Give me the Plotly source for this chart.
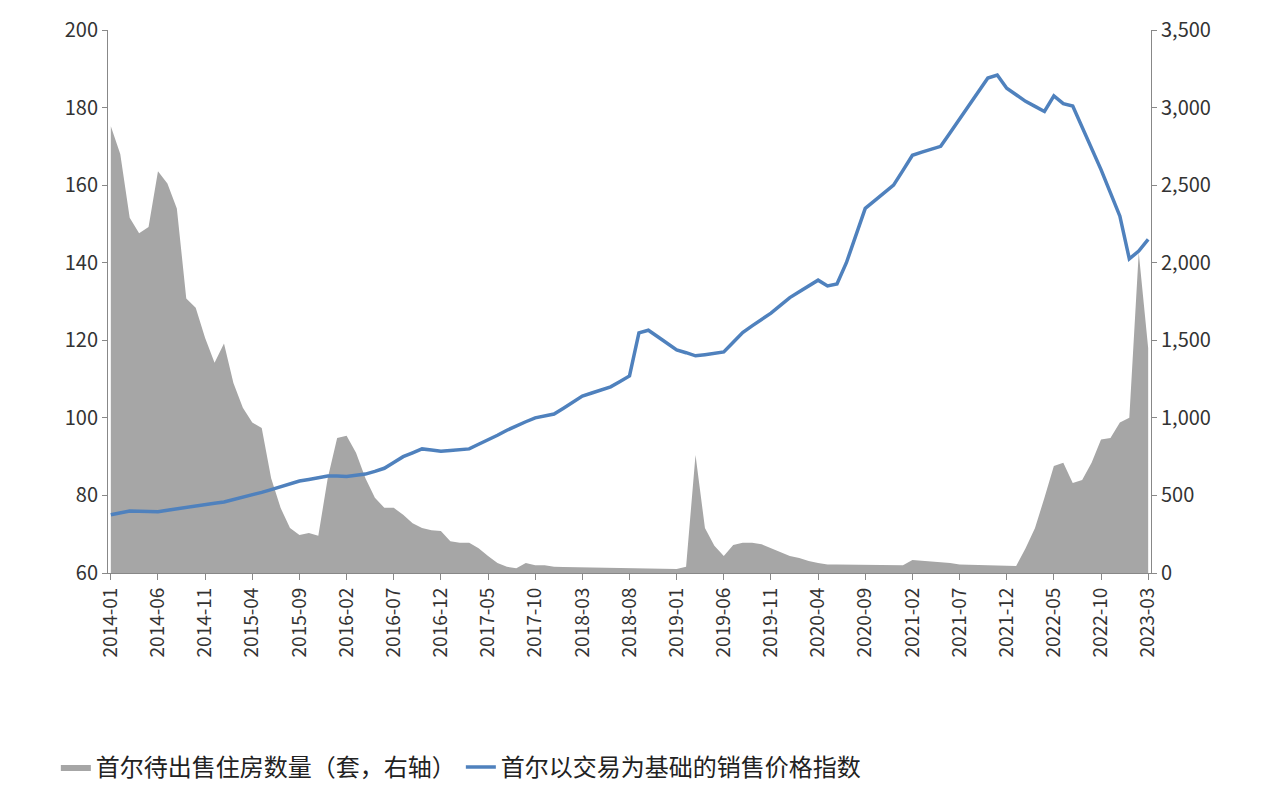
import plotly.graph_objects as go
import pandas as pd

months = pd.date_range("2014-01", "2023-03", freq="MS").strftime("%Y-%m").tolist()

price_anchor = {
"2014-01":75,"2014-03":76,"2014-06":75.8,"2014-09":77,"2014-11":77.8,"2015-01":78.3,"2015-04":80,"2015-06":81.5,
"2015-09":83.7,"2015-12":85,"2016-02":84.9,"2016-04":85.5,"2016-06":87,"2016-08":90,"2016-10":92,"2016-12":91.4,
"2017-03":92,"2017-05":94.3,"2017-08":98,"2017-10":100,"2017-12":101,"2018-03":105.6,"2018-06":108,"2018-08":110.8,
"2018-09":121.9,"2018-10":122.6,"2019-01":117.5,"2019-03":116,"2019-06":117,"2019-08":122,"2019-11":127,"2020-01":131,
"2020-04":135.5,"2020-05":134,"2020-06":134.5,"2020-07":140,"2020-09":154,"2020-12":160,"2021-02":167.7,"2021-05":170,
"2021-07":177,"2021-10":187.6,"2021-11":188.4,"2021-12":185,"2022-02":181.6,"2022-04":179,"2022-05":183,"2022-06":181,
"2022-07":180.4,"2022-08":175,"2022-10":164,"2022-12":152,"2023-01":141,"2023-02":143,"2023-03":146}
price = pd.Series(price_anchor).reindex(months).astype(float).interpolate().round(1).tolist()

stock_anchor = {
"2014-01":2880,"2014-02":2700,"2014-03":2290,"2014-04":2190,"2014-05":2230,"2014-06":2590,"2014-07":2510,"2014-08":2350,
"2014-09":1770,"2014-10":1710,"2014-11":1515,"2014-12":1355,"2015-01":1480,"2015-02":1225,"2015-03":1065,"2015-04":970,
"2015-05":935,"2015-06":610,"2015-07":420,"2015-08":290,"2015-09":245,"2015-10":258,"2015-11":240,"2015-12":610,
"2016-01":870,"2016-02":885,"2016-03":775,"2016-04":610,"2016-05":485,"2016-06":420,"2016-07":420,"2016-08":375,
"2016-09":320,"2016-10":290,"2016-11":275,"2016-12":270,"2017-01":205,"2017-02":195,"2017-03":195,"2017-04":160,
"2017-05":110,"2017-06":65,"2017-07":40,"2017-08":30,"2017-09":65,"2017-10":50,"2017-11":50,"2017-12":40,
"2018-08":30,"2019-01":25,"2019-02":40,"2019-03":760,"2019-04":290,"2019-05":175,"2019-06":110,"2019-07":180,
"2019-08":195,"2019-09":195,"2019-10":185,"2019-11":160,"2019-12":130,"2020-01":110,"2020-02":97,"2020-03":77,
"2020-04":65,"2020-05":55,"2021-01":50,"2021-02":84,"2021-03":80,"2021-06":65,"2021-07":55,"2022-01":45,
"2022-02":160,"2022-03":290,"2022-04":485,"2022-05":690,"2022-06":710,"2022-07":580,"2022-08":600,"2022-09":710,
"2022-10":860,"2022-11":870,"2022-12":970,"2023-01":1000,"2023-02":2065,"2023-03":1450}
stock = pd.Series(stock_anchor).reindex(months).astype(float).interpolate().round(0).tolist()

tickvals = months[::5]

fig = go.Figure()
fig.add_trace(go.Scatter(x=months, y=stock, name="首尔待出售住房数量（套，右轴）", mode="lines",
    line=dict(width=0, color="#a6a6a6"), fill="tozeroy", fillcolor="#a6a6a6", yaxis="y"))
fig.add_trace(go.Scatter(x=months, y=price, name="首尔以交易为基础的销售价格指数", mode="lines",
    line=dict(width=3.5, color="#4f81bd"), yaxis="y2"))

font = "Noto Sans CJK SC, DejaVu Sans"
fig.update_layout(
    width=1278, height=800, paper_bgcolor="white", plot_bgcolor="white",
    margin=dict(l=100, r=135, t=22, b=235, autoexpand=False),
    font=dict(family=font, size=20, color="#333"),
    xaxis=dict(type="category", tickvals=tickvals, ticktext=tickvals, tickangle=-90, automargin=False,
               showgrid=False, showline=True, linecolor="#888", ticks="outside", tickcolor="#888",
               ticklen=6, range=[-0.3, len(months)-0.7], tickfont=dict(size=19, color="#333")),
    yaxis=dict(side="right", range=[0, 3500], dtick=500, tickformat=",", showgrid=False, automargin=False,
               showline=True, linecolor="#888", ticks="outside", tickcolor="#888", tickfont=dict(size=20, color="#333")),
    yaxis2=dict(overlaying="y", side="left", range=[60, 200], dtick=20, showgrid=False, automargin=False,
                showline=True, linecolor="#888", ticks="outside", tickcolor="#888", tickfont=dict(size=20, color="#333")),
    legend=dict(orientation="h", x=-0.05, xanchor="left", y=-0.358, yanchor="middle",
                font=dict(size=24, color="#222")),
    showlegend=True,
)
fig.write_html("out.html")
